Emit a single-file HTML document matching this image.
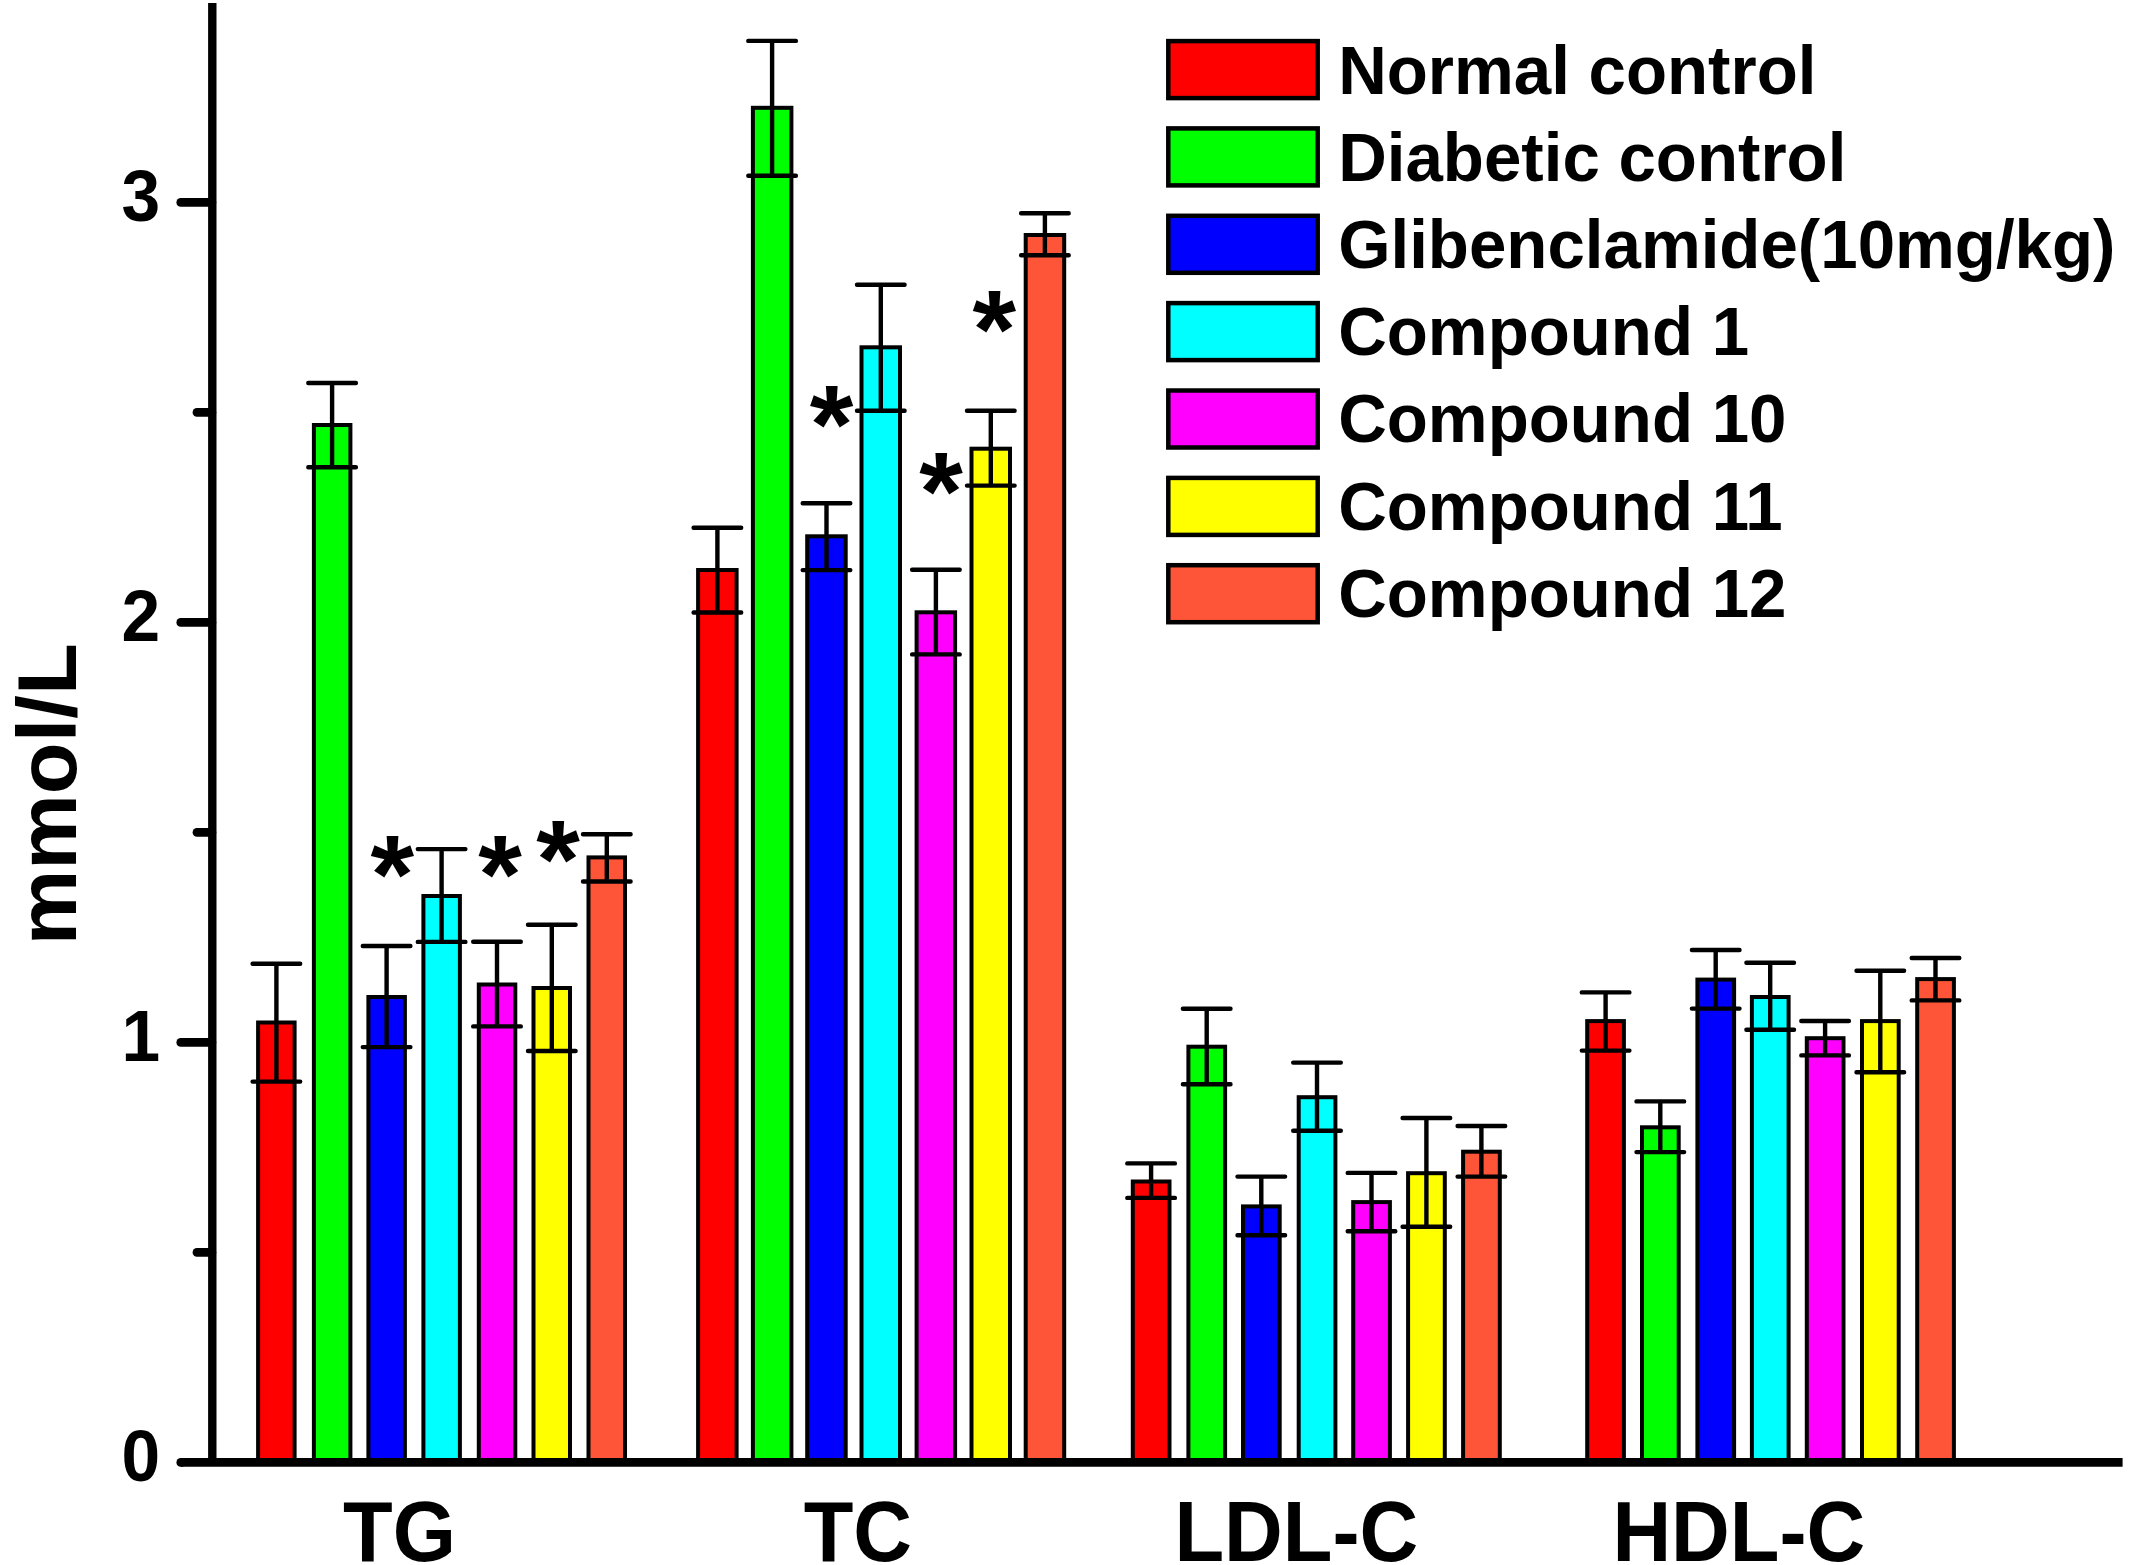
<!DOCTYPE html>
<html><head><meta charset="utf-8"><title>Lipid profile chart</title>
<style>
html,body{margin:0;padding:0;background:#fff;}
body{width:2132px;height:1565px;overflow:hidden;}
svg{display:block;}
text{font-family:"Liberation Sans",Arial,Helvetica,sans-serif;font-weight:bold;fill:#000;}
</style></head><body>
<svg width="2132" height="1565" viewBox="0 0 2132 1565">
<rect x="0" y="0" width="2132" height="1565" fill="#fff"/>
<g stroke="#000" stroke-width="4">
<rect x="258.1" y="1022.5" width="36.5" height="439.9" fill="#FF0000"/>
<rect x="313.9" y="425.0" width="36.5" height="1037.4" fill="#00FF00"/>
<rect x="368.4" y="997.0" width="36.5" height="465.4" fill="#0000FF"/>
<rect x="423.4" y="896.0" width="36.5" height="566.4" fill="#00FFFF"/>
<rect x="478.8" y="984.5" width="36.5" height="477.9" fill="#FF00FF"/>
<rect x="533.5" y="988.0" width="36.5" height="474.4" fill="#FFFF00"/>
<rect x="588.5" y="857.4" width="36.5" height="605.0" fill="#FE5538"/>
<rect x="698.1" y="570.0" width="38.5" height="892.4" fill="#FF0000"/>
<rect x="752.9" y="107.8" width="38.5" height="1354.6" fill="#00FF00"/>
<rect x="807.2" y="536.3" width="38.5" height="926.1" fill="#0000FF"/>
<rect x="861.5" y="347.3" width="38.5" height="1115.1" fill="#00FFFF"/>
<rect x="916.6" y="612.3" width="38.5" height="850.1" fill="#FF00FF"/>
<rect x="971.5" y="448.7" width="38.5" height="1013.7" fill="#FFFF00"/>
<rect x="1025.7" y="235.0" width="38.5" height="1227.4" fill="#FE5538"/>
<rect x="1132.8" y="1181.5" width="36.7" height="280.9" fill="#FF0000"/>
<rect x="1188.4" y="1046.7" width="36.7" height="415.7" fill="#00FF00"/>
<rect x="1243.0" y="1206.4" width="36.7" height="256.0" fill="#0000FF"/>
<rect x="1298.7" y="1097.2" width="36.7" height="365.2" fill="#00FFFF"/>
<rect x="1353.2" y="1202.1" width="36.7" height="260.3" fill="#FF00FF"/>
<rect x="1408.1" y="1173.2" width="36.7" height="289.2" fill="#FFFF00"/>
<rect x="1463.1" y="1151.7" width="36.7" height="310.7" fill="#FE5538"/>
<rect x="1587.2" y="1021.1" width="36.7" height="441.3" fill="#FF0000"/>
<rect x="1642.0" y="1127.3" width="36.7" height="335.1" fill="#00FF00"/>
<rect x="1697.4" y="979.6" width="36.7" height="482.8" fill="#0000FF"/>
<rect x="1751.9" y="997.0" width="36.7" height="465.4" fill="#00FFFF"/>
<rect x="1806.8" y="1038.2" width="36.7" height="424.2" fill="#FF00FF"/>
<rect x="1862.0" y="1021.1" width="36.7" height="441.3" fill="#FFFF00"/>
<rect x="1917.2" y="979.1" width="36.7" height="483.3" fill="#FE5538"/>
</g>
<g stroke="#000" stroke-width="4.4" stroke-linecap="round" fill="none">
<path d="M252.6 963.8H300.2M252.6 1081.6H300.2M276.4 963.8V1081.6"/>
<path d="M308.3 383.0H355.9M308.3 467.3H355.9M332.1 383.0V467.3"/>
<path d="M362.8 946.0H410.4M362.8 1047.1H410.4M386.6 946.0V1047.1"/>
<path d="M417.8 849.1H465.4M417.8 941.9H465.4M441.6 849.1V941.9"/>
<path d="M473.2 941.7H520.8M473.2 1026.4H520.8M497.0 941.7V1026.4"/>
<path d="M528.0 924.7H575.6M528.0 1051.0H575.6M551.8 924.7V1051.0"/>
<path d="M583.0 834.3H630.6M583.0 881.5H630.6M606.8 834.3V881.5"/>
<path d="M693.6 527.7H741.2M693.6 612.5H741.2M717.4 527.7V612.5"/>
<path d="M748.3 40.9H795.9M748.3 175.8H795.9M772.1 40.9V175.8"/>
<path d="M802.7 503.2H850.3M802.7 570.1H850.3M826.5 503.2V570.1"/>
<path d="M857.0 284.7H904.6M857.0 410.8H904.6M880.8 284.7V410.8"/>
<path d="M912.1 569.7H959.7M912.1 654.4H959.7M935.9 569.7V654.4"/>
<path d="M967.0 410.8H1014.6M967.0 485.6H1014.6M990.8 410.8V485.6"/>
<path d="M1021.1 213.2H1068.7M1021.1 255.3H1068.7M1044.9 213.2V255.3"/>
<path d="M1127.3 1163.4H1174.9M1127.3 1197.9H1174.9M1151.1 1163.4V1197.9"/>
<path d="M1182.9 1008.7H1230.5M1182.9 1084.3H1230.5M1206.7 1008.7V1084.3"/>
<path d="M1237.5 1176.6H1285.1M1237.5 1235.3H1285.1M1261.3 1176.6V1235.3"/>
<path d="M1293.2 1062.6H1340.8M1293.2 1130.8H1340.8M1317.0 1062.6V1130.8"/>
<path d="M1347.7 1172.9H1395.3M1347.7 1231.2H1395.3M1371.5 1172.9V1231.2"/>
<path d="M1402.6 1118.0H1450.2M1402.6 1226.8H1450.2M1426.4 1118.0V1226.8"/>
<path d="M1457.6 1126.0H1505.2M1457.6 1176.6H1505.2M1481.4 1126.0V1176.6"/>
<path d="M1581.8 992.4H1629.4M1581.8 1050.6H1629.4M1605.6 992.4V1050.6"/>
<path d="M1636.5 1101.4H1684.1M1636.5 1152.1H1684.1M1660.3 1101.4V1152.1"/>
<path d="M1691.9 950.0H1739.5M1691.9 1008.6H1739.5M1715.7 950.0V1008.6"/>
<path d="M1746.4 962.8H1794.0M1746.4 1029.7H1794.0M1770.2 962.8V1029.7"/>
<path d="M1801.3 1021.0H1848.9M1801.3 1055.4H1848.9M1825.1 1021.0V1055.4"/>
<path d="M1856.5 970.8H1904.1M1856.5 1072.3H1904.1M1880.3 970.8V1072.3"/>
<path d="M1911.7 958.0H1959.3M1911.7 1000.4H1959.3M1935.5 958.0V1000.4"/>
</g>
<g stroke="#000" stroke-width="8.6" fill="none">
<path stroke-width="8.4" d="M212.3 3.1V1462.4"/>
<path d="M180.7 1462.4H2122.6" />
<path stroke-linecap="round" d="M180.7 1462.4h1"/>
<path stroke-linecap="round" d="M180.7 1042.4H212"/>
<path stroke-linecap="round" d="M180.7 622.4H212"/>
<path stroke-linecap="round" d="M180.7 202.4H212"/>
<path stroke-linecap="round" d="M196.9 1252.4H212"/>
<path stroke-linecap="round" d="M196.9 832.4H212"/>
<path stroke-linecap="round" d="M196.9 412.4H212"/>
</g>
<text transform="translate(160.1 1481.0) scale(0.965 1)" font-size="72" text-anchor="end">0</text>
<text transform="translate(160.1 1061.0) scale(0.965 1)" font-size="72" text-anchor="end">1</text>
<text transform="translate(160.1 641.0) scale(0.965 1)" font-size="72" text-anchor="end">2</text>
<text transform="translate(160.1 221.0) scale(0.965 1)" font-size="72" text-anchor="end">3</text>
<text transform="translate(75.9 794.2) rotate(-90) scale(1.02 1)" font-size="83.3" text-anchor="middle">mmol/L</text>
<text transform="translate(399.5 1561.2) scale(0.963 1)" font-size="84.4" text-anchor="middle">TG</text>
<text transform="translate(857.9 1561.2) scale(0.963 1)" font-size="84.4" text-anchor="middle">TC</text>
<text transform="translate(1296.3 1561.2) scale(0.963 1)" font-size="84.4" text-anchor="middle">LDL-C</text>
<text transform="translate(1738.8 1561.2) scale(0.963 1)" font-size="84.4" text-anchor="middle">HDL-C</text>
<rect x="1168.3" y="41.1" width="149.4" height="57" fill="#FF0000" stroke="#000" stroke-width="4.5"/>
<text transform="translate(1338.2 93.5) scale(0.969 1)" font-size="69.4">Normal control</text>
<rect x="1168.3" y="128.4" width="149.4" height="57" fill="#00FF00" stroke="#000" stroke-width="4.5"/>
<text transform="translate(1338.2 180.7) scale(0.969 1)" font-size="69.4">Diabetic control</text>
<rect x="1168.3" y="215.8" width="149.4" height="57" fill="#0000FF" stroke="#000" stroke-width="4.5"/>
<text transform="translate(1338.2 268.0) scale(0.969 1)" font-size="69.4">Glibenclamide(10mg/kg)</text>
<rect x="1168.3" y="303.1" width="149.4" height="57" fill="#00FFFF" stroke="#000" stroke-width="4.5"/>
<text transform="translate(1338.2 355.2) scale(0.969 1)" font-size="69.4">Compound 1</text>
<rect x="1168.3" y="390.5" width="149.4" height="57" fill="#FF00FF" stroke="#000" stroke-width="4.5"/>
<text transform="translate(1338.2 442.4) scale(0.969 1)" font-size="69.4">Compound 10</text>
<rect x="1168.3" y="477.9" width="149.4" height="57" fill="#FFFF00" stroke="#000" stroke-width="4.5"/>
<text transform="translate(1338.2 529.7) scale(0.969 1)" font-size="69.4">Compound 11</text>
<rect x="1168.3" y="565.2" width="149.4" height="57" fill="#FE5538" stroke="#000" stroke-width="4.5"/>
<text transform="translate(1338.2 616.9) scale(0.969 1)" font-size="69.4">Compound 12</text>
<text x="392.4" y="912.5" font-size="112" text-anchor="middle">*</text>
<text x="500.0" y="913.3" font-size="112" text-anchor="middle">*</text>
<text x="558.1" y="897.5" font-size="112" text-anchor="middle">*</text>
<text x="831.6" y="463.3" font-size="112" text-anchor="middle">*</text>
<text x="941.1" y="529.8" font-size="112" text-anchor="middle">*</text>
<text x="994.3" y="367.6" font-size="112" text-anchor="middle">*</text>
</svg>
</body></html>
